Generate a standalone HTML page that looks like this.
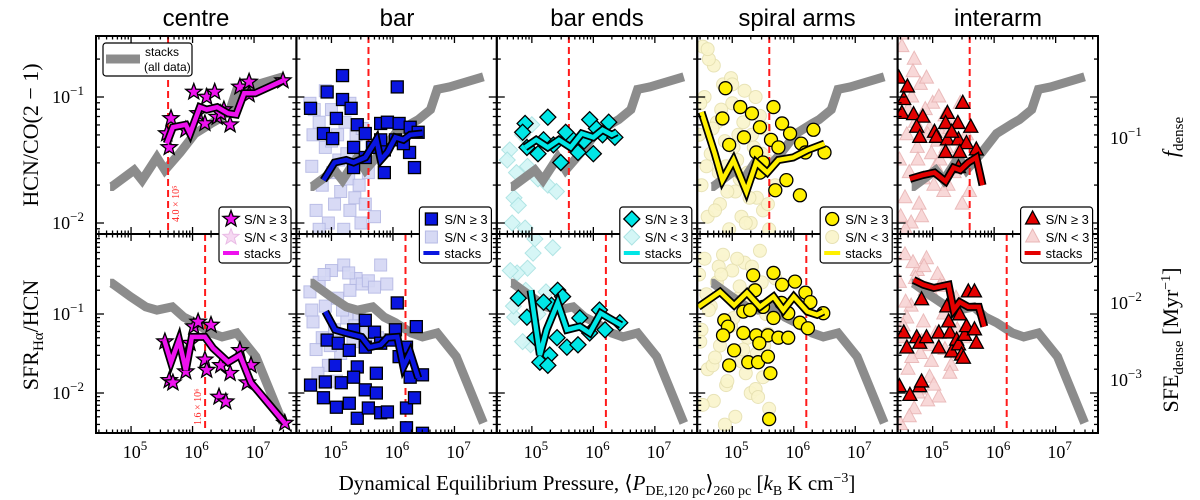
<!DOCTYPE html>
<html><head><meta charset="utf-8"><style>
html,body{margin:0;padding:0;background:#fff;}
svg{display:block;}
.ser{font-family:"Liberation Serif","DejaVu Serif",serif;}
.san{font-family:"Liberation Sans","DejaVu Sans",sans-serif;}
</style></head><body>
<svg id="chart" width="1200" height="500" viewBox="0 0 1200 500" xmlns="http://www.w3.org/2000/svg">
<g class="san" font-size="24" text-anchor="middle" fill="#000">
<text x="196" y="26">centre</text>
<text x="397" y="26">bar</text>
<text x="597" y="26">bar ends</text>
<text x="797" y="26">spiral arms</text>
<text x="998" y="26">interarm</text>
</g>
<g class="ser" font-size="22" fill="#000">
<text transform="translate(38,135) rotate(-90)" text-anchor="middle">HCN/CO(2 − 1)</text>
<text transform="translate(38,335) rotate(-90)" text-anchor="middle">SFR<tspan font-size="15" dy="5">Hα</tspan><tspan dy="-5">/HCN</tspan></text>
<text transform="translate(1178,137) rotate(-90)" text-anchor="middle"><tspan font-style="italic">f</tspan><tspan font-size="15" dy="5">dense</tspan></text>
<text transform="translate(1178,340) rotate(-90)" text-anchor="middle">SFE<tspan font-size="15" dy="5">dense</tspan><tspan dy="-5"> [Myr</tspan><tspan font-size="14" dy="-8">−1</tspan><tspan dy="8">]</tspan></text>
<text x="597" y="490" text-anchor="middle" font-size="21">Dynamical Equilibrium Pressure, ⟨<tspan font-style="italic">P</tspan><tspan font-size="14" dy="5">DE,120 pc</tspan><tspan dy="-5">⟩</tspan><tspan font-size="14" dy="5">260 pc</tspan><tspan dy="-5"> [</tspan><tspan font-style="italic">k</tspan><tspan font-size="14" dy="5">B</tspan><tspan dy="-5"> K cm</tspan><tspan font-size="14" dy="-8">−3</tspan><tspan dy="8">]</tspan></text>
</g>
<g id="plots"></g>
<g id="frames"></g>
<g id="labels" class="ser" font-size="18"></g>
<g id="legends" class="san" font-size="13"></g>
</svg>
<script>
// ---- data (log10 values) ----
const grayTopLogP = [4.66,4.69,5.05,5.18,5.42,5.55,5.80,6.04,6.30,6.41,6.61,6.72,6.92,7.47];
const grayTopLogR = [-1.71,-1.71,-1.58,-1.66,-1.48,-1.58,-1.44,-1.29,-1.21,-1.18,-1.10,-0.94,-0.92,-0.84];
const grayBotLogP = [4.66,4.69,4.99,5.24,5.42,5.67,5.86,6.04,6.30,6.48,6.72,7.03,7.47];
const grayBotLogR = [-0.61,-0.61,-0.78,-0.91,-0.95,-0.91,-1.04,-1.11,-1.24,-1.29,-1.24,-1.54,-2.38];
const redLineTop = 5.602;  // 4.0e5
const redLineBot = 6.204;  // 1.6e6

// centre
const cenTopX = [5.62,5.58,5.65,5.89,6.02,6.23,6.36,6.20,6.40,6.51,6.61,6.77,6.92,6.92,7.47,6.46,6.09];
const cenTopY = [-1.40,-1.29,-1.17,-1.26,-0.96,-1.00,-0.96,-1.21,-1.16,-1.10,-1.22,-0.92,-0.88,-0.98,-0.87,-1.13,-1.13];
const cenTopSX = [5.58,5.68,5.89,5.96,6.12,6.23,6.40,6.58,6.71,6.84,7.02,7.47];
const cenTopSY = [-1.37,-1.24,-1.22,-1.29,-1.08,-1.10,-1.08,-1.13,-1.14,-0.97,-0.97,-0.87];
const cenBotX = [5.55,5.62,5.68,5.89,6.02,6.09,6.20,6.23,6.30,6.43,6.54,6.61,6.77,6.89,6.95,7.50,6.46,5.96];
const cenBotY = [-1.35,-1.84,-1.87,-1.73,-1.16,-1.10,-1.58,-1.71,-1.14,-2.05,-2.11,-1.75,-1.46,-1.87,-1.65,-2.38,-1.65,-1.37];
const cenBotSX = [5.54,5.65,5.78,5.89,5.99,6.20,6.33,6.58,6.77,6.95,7.50];
const cenBotSY = [-1.33,-1.61,-1.33,-1.71,-1.29,-1.29,-1.43,-1.61,-1.52,-1.87,-2.38];

// bar
const barTopX = [5.18,4.93,4.66,5.18,5.32,5.08,4.87,5.02,5.42,5.36,6.07,5.55,5.80,5.91,6.10,6.28,6.41,5.67,5.86,6.27,6.35,5.86,5.36,5.55,6.04,6.17,5.80];
const barTopY = [-0.83,-0.96,-1.09,-1.02,-1.09,-1.17,-1.29,-1.33,-1.22,-1.40,-0.92,-1.29,-1.21,-1.20,-1.21,-1.24,-1.28,-1.40,-1.42,-1.44,-1.56,-1.60,-1.56,-1.48,-1.34,-1.37,-1.34];
const barTopSX = [4.87,5.05,5.24,5.36,5.55,5.73,5.80,5.91,6.04,6.17,6.28,6.48];
const barTopSY = [-1.66,-1.52,-1.50,-1.52,-1.48,-1.34,-1.50,-1.44,-1.32,-1.34,-1.30,-1.29];
const barTopPX = [4.65,4.70,4.68,4.75,4.80,4.85,4.90,4.95,5.00,5.02,5.05,5.10,5.12,5.15,5.20,5.22,5.25,5.28,5.30,5.35,5.38,5.40,5.45,5.48,5.50,5.55,5.60,5.65,5.70,4.72,4.90,5.00,5.30,5.50,4.80];
const barTopPY = [-1.05,-1.30,-1.55,-1.90,-1.20,-1.70,-1.40,-2.00,-1.10,-1.60,-1.85,-1.30,-1.50,-1.75,-2.05,-1.20,-1.45,-1.65,-1.90,-1.55,-1.80,-1.30,-1.70,-2.00,-1.50,-1.85,-1.60,-1.40,-1.95,-1.10,-0.95,-1.35,-1.05,-1.25,-2.05];
const barBotX = [6.07,5.55,5.36,5.70,6.04,6.38,4.93,5.11,5.29,5.55,5.80,5.97,5.06,5.42,5.73,6.10,6.22,4.66,4.90,5.16,5.36,5.55,5.73,4.87,5.08,5.29,5.42,5.60,5.80,5.91,6.22,6.35,6.22,6.48,6.28,6.48];
const barBotY = [-0.86,-1.08,-1.20,-1.23,-1.20,-1.16,-1.33,-1.37,-1.46,-1.42,-1.37,-1.33,-1.65,-1.67,-1.75,-1.54,-1.42,-1.90,-1.86,-1.87,-1.80,-1.96,-2.00,-2.06,-2.18,-2.13,-2.32,-2.19,-2.25,-2.24,-2.19,-2.06,-2.44,-2.51,-1.80,-1.77];
const barBotSX = [4.90,5.06,5.24,5.49,5.62,5.80,5.91,6.07,6.17,6.28,6.41];
const barBotSY = [-0.97,-1.20,-1.24,-1.29,-1.42,-1.39,-1.30,-1.29,-1.67,-1.49,-1.81];
const barBotPX = [4.65,4.70,4.75,4.80,4.85,4.90,4.95,5.00,5.05,5.10,5.15,5.20,5.25,5.30,5.35,5.40,5.45,5.50,5.55,5.60,5.70,5.80,4.68,4.78,4.88,4.98,5.08,5.18,5.28,5.38,5.90,5.75];
const barBotPY = [-0.72,-1.10,-1.45,-0.60,-1.30,-0.90,-1.65,-0.45,-1.20,-0.80,-1.50,-0.38,-1.05,-0.70,-1.35,-0.55,-1.00,-0.62,-1.25,-0.58,-0.66,-0.38,-0.95,-1.75,-0.50,-1.40,-1.85,-0.95,-0.48,-1.15,-0.62,-1.30];

// bar ends
const endTopX = [4.89,5.26,4.92,5.19,5.47,5.75,5.94,5.63,6.05,6.15,6.25,6.35,5.10,5.35,5.55,5.85,4.85,6.00];
const endTopY = [-1.21,-1.16,-1.40,-1.34,-1.52,-1.44,-1.18,-1.32,-1.25,-1.30,-1.20,-1.32,-1.45,-1.38,-1.28,-1.35,-1.28,-1.45];
const endTopSX = [4.89,5.07,5.26,5.44,5.63,5.81,6.00,6.15,6.30,6.38];
const endTopSY = [-1.40,-1.34,-1.40,-1.34,-1.40,-1.29,-1.32,-1.26,-1.30,-1.28];
const endTopPX = [4.64,4.71,4.78,4.89,4.93,4.75,5.00,5.10,4.85,5.26,4.68,5.40,4.60];
const endTopPY = [-1.42,-1.80,-1.86,-2.04,-1.55,-1.60,-1.22,-1.65,-1.30,-1.70,-2.00,-1.75,-1.50];
const endBotX = [4.78,4.92,5.05,5.13,5.29,5.26,5.42,5.50,5.32,5.41,5.57,5.75,5.78,5.94,6.10,6.19,6.43,5.19];
const endBotY = [-0.80,-1.04,-1.30,-1.61,-1.52,-1.65,-0.70,-0.78,-0.89,-1.30,-1.42,-1.39,-1.05,-1.24,-0.95,-1.20,-1.11,-0.85];
const endBotSX = [4.98,5.13,5.24,5.42,5.57,5.78,5.94,6.12,6.25,6.45];
const endBotSY = [-0.70,-1.52,-1.20,-0.86,-1.20,-1.16,-1.24,-0.99,-1.05,-1.14];
const endBotPX = [5.02,5.34,4.93,4.76,4.72,5.00,4.98,5.23,4.90,4.65,4.70,5.10,4.85,5.05];
const endBotPY = [-0.23,-0.16,-0.42,-0.48,-1.04,-0.99,-1.39,-0.72,-0.70,-0.45,-0.90,-1.00,-1.35,-0.05];

// spiral arms
const spiTopX = [4.89,5.13,5.67,4.84,4.95,5.32,5.45,5.19,5.39,5.63,5.81,5.94,6.12,6.32,6.50,5.50,5.70,6.10,5.88,5.45,6.19,5.75];
const spiTopY = [-0.93,-1.08,-1.08,-1.17,-1.38,-1.13,-1.24,-1.32,-1.44,-1.34,-1.21,-1.29,-1.37,-1.26,-1.44,-1.52,-1.74,-1.78,-1.66,-1.60,-1.44,-1.40];
const spiTopSX = [4.50,4.71,4.84,5.02,5.23,5.39,5.57,5.75,5.99,6.23,6.50];
const spiTopSY = [-1.12,-1.44,-1.66,-1.50,-1.75,-1.52,-1.60,-1.50,-1.48,-1.42,-1.37];
const spiTopPX = [4.46,4.50,4.55,4.60,4.65,4.70,4.75,4.80,4.85,4.90,4.95,5.00,5.05,5.10,5.15,5.20,5.25,5.30,5.35,5.40,5.45,5.50,5.55,5.60,5.70,4.48,4.58,4.68,4.78,4.88,4.98,5.08,5.18,5.28,5.38,5.48,5.58,4.52,4.62,4.72,4.82,4.92,5.02,5.12,5.22,5.32,5.42,5.52,4.60,5.00];
const spiTopPY = [-1.30,-1.70,-1.00,-1.95,-1.45,-0.75,-1.20,-1.85,-0.90,-1.55,-2.05,-1.05,-1.75,-1.30,-1.95,-0.95,-1.60,-2.00,-1.40,-1.80,-1.15,-1.90,-1.50,-2.05,-1.70,-1.05,-1.55,-1.25,-1.60,-1.35,-0.85,-1.50,-1.20,-1.80,-1.00,-1.45,-1.85,-0.60,-0.70,-1.90,-1.10,-1.75,-1.40,-1.65,-2.00,-1.30,-1.60,-1.25,-0.62,-0.90];
const spiBotX = [5.67,5.34,5.37,5.81,6.02,6.19,6.27,5.18,4.87,4.93,4.85,5.18,5.39,5.58,5.44,5.75,5.91,5.03,4.95,5.26,5.42,5.58,5.62,5.60,5.67,5.91,6.10,6.23,6.48,5.80,5.29,5.50];
const spiBotY = [-0.48,-0.51,-0.70,-0.63,-0.59,-0.73,-0.85,-0.97,-1.08,-1.16,-1.27,-1.24,-1.27,-1.27,-1.37,-1.30,-1.30,-1.46,-1.65,-1.61,-1.61,-1.54,-1.75,-2.33,-1.05,-0.99,-1.11,-1.18,-0.99,-0.86,-0.95,-0.91];
const spiBotSX = [4.45,4.80,5.03,5.24,5.45,5.67,5.83,6.00,6.22,6.38,6.48];
const spiBotSY = [-0.91,-0.72,-0.89,-0.73,-0.91,-0.78,-0.95,-0.78,-0.97,-1.01,-0.97];
const spiBotPX = [4.46,4.50,4.55,4.60,4.65,4.70,4.75,4.80,4.85,4.90,4.95,5.00,5.05,5.10,5.15,5.20,5.25,5.30,5.35,5.40,5.45,5.50,5.55,5.60,5.70,4.48,4.58,4.68,4.78,4.88,4.98,5.08,5.18,5.28,5.38,5.48,5.58,4.52,4.62,4.72,4.82,4.92,5.02,5.12,5.22,5.32,5.42,5.52,5.65,5.80];
const spiBotPY = [-0.50,-1.20,-0.30,-1.70,-0.90,-2.10,-0.60,-1.40,-0.25,-1.90,-1.10,-0.45,-2.30,-0.80,-1.60,-0.35,-1.30,-2.00,-0.70,-1.50,-0.20,-1.80,-1.00,-2.20,-0.55,-1.35,-0.75,-1.65,-0.40,-2.40,-1.15,-0.30,-1.45,-0.85,-1.95,-0.60,-1.25,-2.15,-0.95,-1.55,-0.50,-1.85,-1.05,-0.65,-1.75,-0.40,-2.05,-1.40,-1.00,-0.90];

// interarm
const intTopX = [4.45,4.59,4.53,4.50,4.69,4.84,4.74,4.79,5.03,5.06,5.24,5.21,5.41,5.49,5.62,5.24,5.42,5.55,5.71,5.21,5.44,5.42,5.31];
const intTopY = [-0.85,-0.92,-1.02,-1.13,-1.14,-1.16,-1.24,-1.32,-1.28,-1.32,-1.13,-1.21,-1.21,-1.05,-1.24,-1.34,-1.34,-1.37,-1.42,-1.44,-1.44,-1.56,-1.28];
const intTopSX = [4.63,4.84,5.03,5.21,5.34,5.45,5.58,5.71,5.81];
const intTopSY = [-1.65,-1.62,-1.60,-1.67,-1.56,-1.58,-1.52,-1.48,-1.70];
const intTopPX = [4.46,4.50,4.55,4.60,4.65,4.70,4.75,4.80,4.85,4.90,4.95,5.00,5.05,5.10,5.15,5.20,5.25,5.30,5.35,5.40,5.45,5.50,5.55,5.60,4.48,4.58,4.68,4.78,4.88,4.98,5.08,5.18,5.28,5.38,5.48,4.52,4.62,4.72,4.82,4.92,5.02,5.12,5.22,4.56,4.66,4.76];
const intTopPY = [-1.50,-0.60,-1.80,-1.10,-2.00,-0.70,-1.40,-0.90,-1.65,-0.85,-1.25,-1.05,-1.55,-1.00,-1.30,-1.15,-1.70,-1.20,-1.60,-1.45,-1.05,-1.55,-1.30,-1.75,-1.95,-1.30,-0.80,-1.85,-1.10,-1.45,-1.35,-1.75,-1.25,-1.50,-1.85,-0.50,-1.60,-1.20,-1.95,-1.30,-1.70,-1.50,-1.40,-2.05,-1.00,-1.50];
const intBotX = [4.82,5.58,5.68,4.53,4.58,4.74,4.79,4.90,5.10,5.10,5.28,5.31,5.26,5.39,5.42,5.47,5.50,5.52,5.55,5.68,5.71,4.46,4.63,4.79,4.82,5.23,5.44];
const intBotY = [-0.82,-0.72,-0.72,-1.24,-1.43,-1.30,-1.37,-1.30,-1.43,-1.24,-1.24,-1.48,-1.10,-1.33,-1.39,-1.52,-1.56,-1.27,-1.16,-1.20,-1.37,-1.92,-2.03,-1.92,-1.86,-0.91,-1.01];
const intBotSX = [4.69,4.85,5.02,5.26,5.34,5.44,5.58,5.75,5.84];
const intBotSY = [-0.57,-0.63,-0.67,-0.63,-0.95,-0.85,-0.91,-0.91,-1.16];
const intBotPX = [4.46,4.50,4.55,4.60,4.65,4.70,4.75,4.80,4.85,4.90,4.95,5.00,5.05,5.10,5.15,5.20,5.25,5.30,5.35,5.40,5.45,5.50,4.48,4.58,4.68,4.78,4.88,4.98,5.08,5.18,5.28,5.38,4.52,4.62,4.72,4.82,4.92,5.02,5.12,4.56,4.66,4.76,4.86,4.96];
const intBotPY = [-0.60,-1.30,-0.25,-1.70,-0.90,-2.20,-0.45,-1.50,-1.10,-0.30,-1.80,-0.75,-1.25,-2.05,-0.60,-1.45,-0.90,-1.65,-0.95,-1.20,-1.50,-1.30,-2.40,-1.05,-0.35,-1.95,-0.70,-1.60,-0.50,-1.00,-1.75,-0.80,-1.15,-2.30,-0.55,-1.35,-2.10,-1.90,-0.65,-0.85,-1.55,-2.00,-0.40,-1.40];

// ---- geometry ----
const NS = 'http://www.w3.org/2000/svg';
const colLeft = [96,296.4,496.8,697.2,897.6];
const colW = 200.4;
const topY0 = 36, midY = 234, botY1 = 433;
const X0 = 4.43, PXD = 61.5;
function xs(lp, c){ return colLeft[c] + (lp - X0)*PXD; }
function yTop(lr){ return 97 + (-1 - lr)*126; }
function yBot(lr){ return 314 + (-1 - lr)*79; }
function mk(tag, attrs, parent){ const e=document.createElementNS(NS,tag); for(const k in attrs) e.setAttribute(k,attrs[k]); if(parent) parent.appendChild(e); return e; }

const plots = document.getElementById('plots');
const defs = mk('defs',{},document.getElementById('chart'));
for(let c=0;c<5;c++){
  const cp1 = mk('clipPath',{id:'ct'+c},defs); mk('rect',{x:colLeft[c],y:topY0,width:colW,height:midY-topY0},cp1);
  const cp2 = mk('clipPath',{id:'cb'+c},defs); mk('rect',{x:colLeft[c],y:midY,width:colW,height:botY1-midY},cp2);
}

function starPath(cx,cy,r){
  let d=''; for(let i=0;i<10;i++){ const a=-Math.PI/2+i*Math.PI/5; const rr=i%2?r*0.42:r; d+=(i?'L':'M')+(cx+rr*Math.cos(a)).toFixed(1)+' '+(cy+rr*Math.sin(a)).toFixed(1); } return d+'Z';
}
function marker(g, shape, x, y, fill, stroke, op){
  let e;
  if(shape==='star') e = mk('path',{d:starPath(x,y,8.5)},g);
  else if(shape==='square') e = mk('rect',{x:x-6,y:y-6,width:12,height:12},g);
  else if(shape==='diamond') e = mk('path',{d:`M${x} ${y-8}L${x+8} ${y}L${x} ${y+8}L${x-8} ${y}Z`},g);
  else if(shape==='circle') e = mk('circle',{cx:x,cy:y,r:6.5},g);
  else e = mk('path',{d:`M${x} ${y-8}L${x+7} ${y+5}L${x-7} ${y+5}Z`},g);
  e.setAttribute('fill',fill); e.setAttribute('stroke',stroke); e.setAttribute('stroke-width',op?1:1.3);
  if(op) e.setAttribute('opacity',op);
  return e;
}
function line(g, X, Y, c, yf, color, w){
  const pts = X.map((v,i)=>xs(v,c).toFixed(1)+','+yf(Y[i]).toFixed(1)).join(' ');
  return mk('polyline',{points:pts,fill:'none',stroke:color,'stroke-width':w,'stroke-linejoin':'miter','stroke-linecap':'butt'},g);
}

const panels = [
 {name:'centre',shape:'star',col:'#ee11ee',pale:'#f6d6f2',paleEdge:'#e8b8e4',
  top:[cenTopX,cenTopY,cenTopSX,cenTopSY,[],[]], bot:[cenBotX,cenBotY,cenBotSX,cenBotSY,[],[]]},
 {name:'bar',shape:'square',col:'#0a16e0',pale:'#d4d7f4',paleEdge:'#b4b8e4',
  top:[barTopX,barTopY,barTopSX,barTopSY,barTopPX,barTopPY], bot:[barBotX,barBotY,barBotSX,barBotSY,barBotPX,barBotPY]},
 {name:'bar-ends',shape:'diamond',col:'#00e6e6',pale:'#d2f6f6',paleEdge:'#a8e2e2',
  top:[endTopX,endTopY,endTopSX,endTopSY,endTopPX,endTopPY], bot:[endBotX,endBotY,endBotSX,endBotSY,endBotPX,endBotPY]},
 {name:'spiral-arms',shape:'circle',col:'#fff000',pale:'#faf5cc',paleEdge:'#e6e0b0',
  top:[spiTopX,spiTopY,spiTopSX,spiTopSY,spiTopPX,spiTopPY], bot:[spiBotX,spiBotY,spiBotSX,spiBotSY,spiBotPX,spiBotPY]},
 {name:'interarm',shape:'tri',col:'#e40000',pale:'#f8d4d4',paleEdge:'#e8b4b4',
  top:[intTopX,intTopY,intTopSX,intTopSY,intTopPX,intTopPY], bot:[intBotX,intBotY,intBotSX,intBotSY,intBotPX,intBotPY]}
];

panels.forEach((p,c)=>{
  [['top',yTop,'ct',redLineTop,grayTopLogP,grayTopLogR],['bottom',yBot,'cb',redLineBot,grayBotLogP,grayBotLogR]].forEach(([row,yf,cl,rl,gx,gy])=>{
    const d = row==='top'?p.top:p.bot;
    const g = mk('g',{'clip-path':`url(#${cl}${c})`},plots);
    
    
    const pg = mk('g',{},g);
    
    
    d[4].forEach((v,i)=>{ marker(pg,p.shape,xs(v,c),yf(d[5][i]),p.pale,p.paleEdge,0.9); });
    const gl = line(g,gx,gy,c,yf,'#8c8c8c',9);
    
    
    const rx = xs(rl,c);
    const rline = mk('line',{x1:rx,x2:rx,y1:row==='top'?topY0:midY,y2:row==='top'?midY:botY1,stroke:'#ff1a1a','stroke-width':2,'stroke-dasharray':'7,4'},g);
    
    
    const sg = mk('g',{},g);
    
    
    d[0].forEach((v,i)=>{ marker(sg,p.shape,xs(v,c),yf(d[1][i]),p.col,'#000'); });
    const o = line(g,d[2],d[3],c,yf,'#000',8);
    
    
    const s = line(g,d[2],d[3],c,yf,p.col,4.5);
    
    
  });
});

// red annotations in centre panels
const a1 = mk('text',{transform:`translate(${xs(redLineTop,0)+11},222) rotate(-90)`,fill:'#ff2020','font-size':10,class:'ser'},plots);
a1.textContent='4.0 × 10⁵';


const a2 = mk('text',{transform:`translate(${xs(redLineBot,0)-4},425) rotate(-90)`,fill:'#ff2020','font-size':10,class:'ser'},plots);
a2.textContent='1.6 × 10⁶';



// frames & ticks
const frames = document.getElementById('frames');
const xMajors = [5,6,7];
function tick(x1,y1,x2,y2){ mk('line',{x1,y1,x2,y2,stroke:'#000','stroke-width':1.3},frames); }
for(let c=0;c<5;c++){
  const r = mk('rect',{x:colLeft[c],y:topY0,width:colW,height:botY1-topY0,fill:'none',stroke:'#000','stroke-width':2},frames);
  
  
  for(let e=4;e<=7;e++){
    for(let m=1;m<10;m++){
      const lp = e+Math.log10(m); const x = xs(lp,c);
      if(x<=colLeft[c]+1||x>=colLeft[c]+colW-1) continue;
      const L = m===1?7:3.5;
      tick(x,topY0,x,topY0+L); tick(x,midY-L,x,midY+L); tick(x,botY1,x,botY1-L);
    }
  }
}
mk('line',{x1:96,y1:midY,x2:1098,y2:midY,stroke:'#000','stroke-width':2},frames);
function yTicks(yf, lo, hi, y0, y1){
  for(let e=lo;e<=hi;e++) for(let m=1;m<10;m++){
    const y = yf(e+Math.log10(m)); if(y<=y0+1||y>=y1-1) continue;
    const L = m===1?8:4;
    for(let c=0;c<=5;c++){ const x = c<5?colLeft[c]:1098; if(c>0) tick(x-L,y,x,y); if(c<5) tick(x,y,x+L,y); }
  }
}
yTicks(yTop,-3,0,topY0,midY);
yTicks(yBot,-3,0,midY,botY1);

// labels
const labels = document.getElementById('labels');
function sup(x,y,base,exp,anchor,name){
  const t = mk('text',{x,y,'text-anchor':anchor},labels);
  
  
  const a = mk('tspan',{},t); a.textContent = base;
  const b = mk('tspan',{dy:-8,'font-size':13},t); b.textContent = exp;
}
const yTickLabels = ['−1','−2'];
const yTickVals = [-1,-2];
yTickVals.forEach((v,i)=>{ sup(84,yTop(v)+6,'10',yTickLabels[i],'end','y-tick-label-top'); sup(84,yBot(v)+6,'10',yTickLabels[i],'end','y-tick-label-bottom'); });
const xTickLabels = ['5','6','7'];
for(let c=0;c<5;c++) xMajors.forEach((v,i)=>{ sup(xs(v,c)+4,458,'10',xTickLabels[i],'middle','x-tick-label'); });
sup(1110,144,'10','−1','start','right-tick-label-top');
sup(1110,309,'10','−2','start','right-tick-label-bottom');
sup(1110,386,'10','−3','start','right-tick-label-bottom');

// legends
const lg = document.getElementById('legends');
const box0 = mk('g',{},lg);


mk('rect',{x:103,y:43,width:89,height:33,rx:3,fill:'#fff',stroke:'#000','stroke-width':1.2},box0);
mk('line',{x1:106,y1:59,x2:140,y2:59,stroke:'#8c8c8c','stroke-width':9},box0);
const t0 = mk('text',{x:145,y:56,'font-size':12},box0); t0.textContent='stacks';
const t1 = mk('text',{x:144,y:71,'font-size':12},box0); t1.textContent='(all data)';
panels.forEach((p,c)=>{
  const L = colLeft[c]+123, T = 207;
  const g = mk('g',{},lg);
  
  
  mk('rect',{x:L,y:T,width:72,height:56,rx:3,fill:'#fff',stroke:'#000','stroke-width':1.2},g);
  marker(g,p.shape,L+12,T+12,p.col,'#000');
  marker(g,p.shape,L+12,T+30,p.pale,p.paleEdge,0.95);
  mk('line',{x1:L+4,y1:T+46,x2:L+20,y2:T+46,stroke:p.col,'stroke-width':4},g);
  const e1 = mk('text',{x:L+25,y:T+17},g); e1.textContent='S/N ≥ 3';
  const e2 = mk('text',{x:L+25,y:T+35},g); e2.textContent='S/N < 3';
  const e3 = mk('text',{x:L+25,y:T+51},g); e3.textContent='stacks';
});
</script>
</body></html>
